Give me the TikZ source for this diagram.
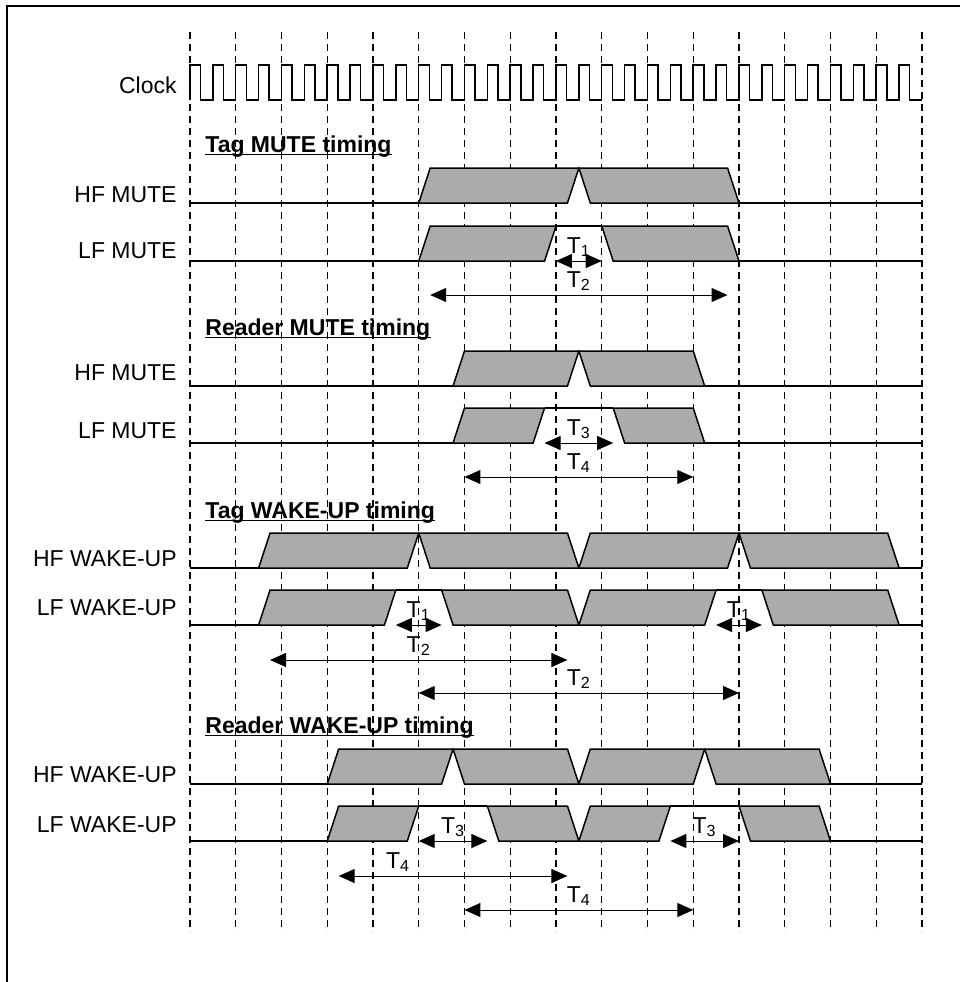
\documentclass[tikz,border=0pt]{standalone}
\usepackage{fontspec}
\setmainfont{Liberation Sans}
\usepackage{tikz}
\usetikzlibrary{arrows.meta}
\tikzstyle{sig}=[line width=0.75pt]
\tikzstyle{pulse}=[line width=0.75pt, fill=black!33]
\tikzstyle{divider}=[line width=0.65pt, dash pattern=on 3.5pt off 2.5pt]
\tikzstyle{span}=[line width=0.5pt, {Triangle[length=8pt,width=7pt]}-{Triangle[length=8pt,width=7pt]}]
\tikzstyle{lbl}=[anchor=base east, inner sep=0pt]
\tikzstyle{heading}=[anchor=base west, inner sep=0pt, font=\fontsize{11.5}{14}\selectfont\bfseries]
\tikzstyle{tlab}=[yshift=7pt, inner sep=0pt]
\newcommand{\pulse}[5]{\filldraw[pulse] (#1,#5) -- (#2,#5-35) -- (#3,#5-35) -- (#4,#5) -- cycle;}
\newcommand{\tsub}[1]{T\textsubscript{#1}}

\begin{document}
\begin{tikzpicture}[x=22.875pt, y=-0.5pt, every node/.style={font=\fontsize{11.5}{14}\selectfont}]
      \useasboundingbox (-4.153,0) rectangle (16.831,982);
      \draw[line width=1pt] (-4,982) -- (-4,6) -- (16.831,6);

      % clock columns
      \foreach \i in {0,...,16}
        \draw[divider] (\i,32) -- (\i,932);
      \draw[sig] (0,100) \foreach \i in {1,...,32} { -- ++(0,-35) -- ++(0.23,0) -- ++(0,35) -- ++(0.27,0) };

      % labels
      \node[lbl] (clock) at (-0.284,93) {Clock};
      \node[lbl] (tmhf) at (-0.284,202) {HF MUTE};
      \node[lbl] (tmlf) at (-0.284,258) {LF MUTE};
      \node[lbl] (rmhf) at (-0.284,380) {HF MUTE};
      \node[lbl] (rmlf) at (-0.284,438) {LF MUTE};
      \node[lbl] (twhf) at (-0.284,566) {HF WAKE-UP};
      \node[lbl] (twlf) at (-0.284,615) {LF WAKE-UP};
      \node[lbl] (rwhf) at (-0.284,782) {HF WAKE-UP};
      \node[lbl] (rwlf) at (-0.284,832) {LF WAKE-UP};

      \node[heading] (tagmute) at (0.328,152) {Tag MUTE timing};
      \node[heading] (readermute) at (0.328,335) {Reader MUTE timing};
      \node[heading] (tagwake) at (0.328,518) {Tag WAKE-UP timing};
      \node[heading] (readerwake) at (0.328,733) {Reader WAKE-UP timing};
      \foreach \h in {tagmute,readermute,tagwake,readerwake}
        \draw[sig] ([yshift=-1.3pt]\h.base west) -- ([yshift=-1.3pt]\h.base east);

      % Tag MUTE
      \draw[sig] (0,203) -- (5,203) (12,203) -- (16,203);
      \pulse{5}{5.25}{8.5}{8.25}{203}
      \pulse{8.75}{8.5}{11.75}{12}{203}
      \draw[sig] (0,261) -- (5,261) (12,261) -- (16,261) (8,226) -- (9,226);
      \pulse{5}{5.25}{8}{7.75}{261}
      \pulse{9.25}{9}{11.75}{12}{261}
      \draw[span] (8,261) -- node[tlab] {\tsub{1}} (9,261);
      \draw[span] (5.25,295) -- node[tlab] {\tsub{2}} (11.75,295);

      % Reader MUTE
      \draw[sig] (0,386) -- (5.75,386) (11.25,386) -- (16,386);
      \pulse{5.75}{6}{8.5}{8.25}{386}
      \pulse{8.75}{8.5}{11}{11.25}{386}
      \draw[sig] (0,443) -- (5.75,443) (11.25,443) -- (16,443) (7.75,408) -- (9.25,408);
      \pulse{5.75}{6}{7.75}{7.5}{443}
      \pulse{9.5}{9.25}{11}{11.25}{443}
      \draw[span] (7.75,443) -- node[tlab] {\tsub{3}} (9.25,443);
      \draw[span] (6,477) -- node[tlab] {\tsub{4}} (11,477);

      % Tag WAKE-UP
      \draw[sig] (0,568) -- (1.5,568) (15.5,568) -- (16,568);
      \pulse{1.5}{1.75}{5}{4.75}{568}
      \pulse{5.25}{5}{8.25}{8.5}{568}
      \pulse{8.5}{8.75}{12}{11.75}{568}
      \pulse{12.25}{12}{15.25}{15.5}{568}
      \draw[sig] (0,625) -- (1.5,625) (15.5,625) -- (16,625) (4.5,590) -- (5.5,590) (11.5,590) -- (12.5,590);
      \pulse{1.5}{1.75}{4.5}{4.25}{625}
      \pulse{5.75}{5.5}{8.25}{8.5}{625}
      \pulse{8.5}{8.75}{11.5}{11.25}{625}
      \pulse{12.75}{12.5}{15.25}{15.5}{625}
      \draw[span] (4.5,625) -- node[tlab] {\tsub{1}} (5.5,625);
      \draw[span] (11.5,625) -- node[tlab] {\tsub{1}} (12.5,625);
      \draw[span] (1.75,660) -- node[tlab] {\tsub{2}} (8.25,660);
      \draw[span] (5,693) -- node[tlab] {\tsub{2}} (12,693);

      % Reader WAKE-UP
      \draw[sig] (0,784) -- (3,784) (14,784) -- (16,784);
      \pulse{3}{3.25}{5.75}{5.5}{784}
      \pulse{6}{5.75}{8.25}{8.5}{784}
      \pulse{8.5}{8.75}{11.25}{11}{784}
      \pulse{11.5}{11.25}{13.75}{14}{784}
      \draw[sig] (0,841) -- (3,841) (14,841) -- (16,841) (5,806) -- (6.5,806) (10.5,806) -- (12,806);
      \pulse{3}{3.25}{5}{4.75}{841}
      \pulse{6.75}{6.5}{8.25}{8.5}{841}
      \pulse{8.5}{8.75}{10.5}{10.25}{841}
      \pulse{12.25}{12}{13.75}{14}{841}
      \draw[span] (5,841) -- node[tlab] {\tsub{3}} (6.5,841);
      \draw[span] (10.5,841) -- node[tlab] {\tsub{3}} (12,841);
      \draw[span] (3.25,876) -- node[tlab, pos=0.26] {\tsub{4}} (8.25,876);
      \draw[span] (6,910) -- node[tlab] {\tsub{4}} (11,910);
    \end{tikzpicture}
\end{document}
